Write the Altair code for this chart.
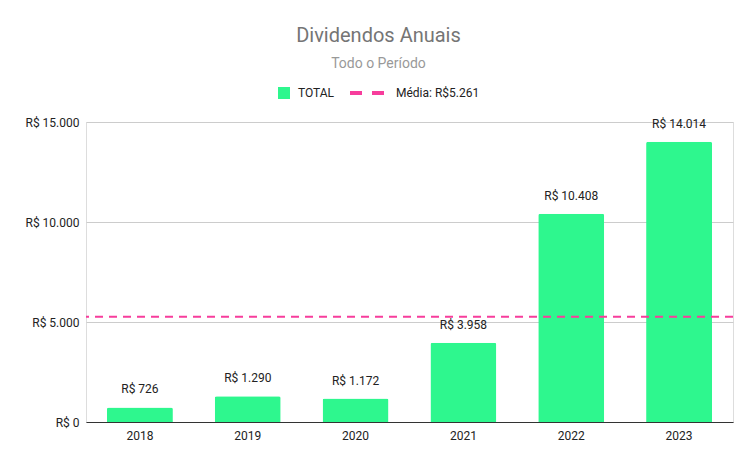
import altair as alt
import pandas as pd

years = ["2018", "2019", "2020", "2021", "2022", "2023"]
values = [726, 1290, 1172, 3958, 10408, 14014]
mean_value = 5261
series_name = "TOTAL"
mean_name = "Média: R$5.261"
y_ticks = [0, 5000, 10000, 15000]

GREEN = "#2ef78e"
PINK = "#f73d9c"
FONT = "Roboto"


def brl(v):
    return "R$ " + f"{v:,.0f}".replace(",", ".")


df = pd.DataFrame({
    "ano": years,
    "valor": values,
    "rotulo": [brl(v) for v in values],
    "serie": [series_name] * len(years),
})
df_mean = pd.DataFrame({"media": [mean_value], "serie": [mean_name]})

x_enc = alt.X(
    "ano:N",
    title=None,
    sort=years,
    scale=alt.Scale(paddingInner=0, paddingOuter=0),
    axis=alt.Axis(labelAngle=0, ticks=False, domainColor="#333333", domainWidth=1,
                  labelPadding=8, labelFontSize=12, labelColor="#222222", labelFont=FONT,
                  grid=False),
)
y_scale = alt.Scale(domain=[0, 15000], nice=False)

bars = alt.Chart(df).mark_bar(
    width=alt.RelativeBandSize(0.612), cornerRadiusTopLeft=2, cornerRadiusTopRight=2
).encode(
    x=x_enc,
    y=alt.Y("valor:Q", title=None, scale=y_scale,
            axis=alt.Axis(values=y_ticks, ticks=False, domain=False, gridColor="#cccccc",
                          labelExpr="'R$ ' + replace(format(datum.value, ',.0f'), regexp(',', 'g'), '.')",
                          labelPadding=7, labelFontSize=12, labelColor="#222222", labelFont=FONT)),
    fill=alt.Fill("serie:N", scale=alt.Scale(domain=[series_name], range=[GREEN]),
                  legend=alt.Legend(title=None, orient="none", legendX=192, legendY=-35,
                                    symbolType="square", symbolSize=144, symbolStrokeWidth=0,
                                    labelFontSize=12, labelFont=FONT, labelColor="#222222",
                                    labelOffset=8)),
)

labels = alt.Chart(df).mark_text(
    dy=-14, baseline="alphabetic", fontSize=12, font=FONT, color="#222222"
).encode(
    x=alt.X("ano:N", sort=years),
    y=alt.Y("valor:Q", scale=y_scale),
    text="rotulo:N",
)

mean_rule = alt.Chart(df_mean).mark_rule(strokeDash=[8, 6], strokeWidth=2).encode(
    y=alt.Y("media:Q", scale=y_scale),
    stroke=alt.Stroke("serie:N", scale=alt.Scale(domain=[mean_name], range=[PINK]),
                      legend=alt.Legend(title=None, orient="none", legendX=262, legendY=-48.5,
                                        symbolType="stroke", symbolSize=1225,
                                        symbolDash=[12, 10], symbolStrokeWidth=4,
                                        labelFontSize=12, labelFont=FONT, labelColor="#222222",
                                        labelOffset=9)),
)

chart = alt.layer(bars, labels, mean_rule).properties(
    width=647,
    height=300,
    autosize=alt.AutoSizeParams(type="none"),
    padding={"left": 78, "top": 114, "right": 15, "bottom": 36},
    title=alt.TitleParams(
        text="Dividendos Anuais",
        subtitle="Todo o Período",
        anchor="middle",
        dx=-31,
        offset=3,
        font=FONT, fontSize=20, fontWeight="normal", color="#757575",
        subtitleFont=FONT, subtitleFontSize=14, subtitleColor="#999999",
        subtitlePadding=11,
    ),
).configure_view(stroke=None).configure(background="white")

chart.save("out.html", embed_options={"renderer": "svg", "actions": False})
